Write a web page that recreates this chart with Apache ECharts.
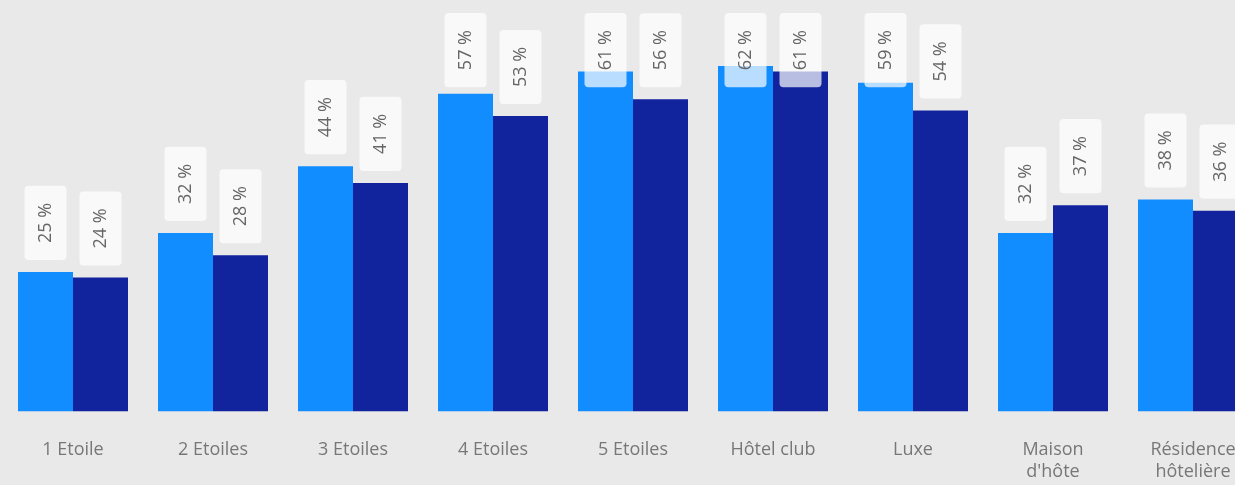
<!DOCTYPE html>
<html>
<head>
<meta charset="utf-8">
<script src="https://cdn.jsdelivr.net/npm/echarts@6/dist/echarts.min.js"></script>
<style>
html,body{margin:0;padding:0;background:#e9e9e9;}
#c{width:1235px;height:485px;}
</style>
</head>
<body>
<div id="c"></div>
<script>
const categories = ['1 Etoile', '2 Etoiles', '3 Etoiles', '4 Etoiles', '5 Etoiles', 'Hôtel club', 'Luxe', "Maison\nd'hôte", 'Résidence\nhôtelière'];
const seriesA = [25, 32, 44, 57, 61, 62, 59, 32, 38];
const seriesB = [24, 28, 41, 53, 56, 61, 54, 37, 36];
const colorA = '#118DFF';
const colorB = '#12239E';

const chart = echarts.init(document.getElementById('c'), null, {renderer: 'canvas'});

const LABEL_DIST = 12;
const LABEL_TOP_LIMIT = 13;

function labelCfg() {
  return {
    show: true,
    position: 'top',
    rotate: 90,
    align: 'left',
    verticalAlign: 'middle',
    distance: LABEL_DIST,
    formatter: '{c} %',
    backgroundColor: 'rgba(255,255,255,0.7)',
    borderRadius: 4,
    padding: [12, 17],
    color: '#666666',
    fontSize: 18,
    fontFamily: 'Open Sans'
  };
}

const option = {
  backgroundColor: '#e9e9e9',
  animation: false,
  grid: {left: 3, top: 21.4, bottom: 73.8, right: -28, outerBoundsMode: 'none', containLabel: false},
  xAxis: {
    type: 'category',
    data: categories,
    axisLine: {show: false},
    axisTick: {show: false},
    axisLabel: {
      interval: 0,
      margin: 28,
      color: '#777777',
      fontSize: 18,
      lineHeight: 22,
      fontFamily: 'Open Sans'
    }
  },
  yAxis: {type: 'value', min: 0, max: 70, show: false, splitLine: {show: false}},
  labelLayout: function (p) {
    const L = Math.max(p.labelRect.width, p.labelRect.height);
    const barTop = Math.min(p.rect.y, p.rect.y + p.rect.height);
    const top = barTop - LABEL_DIST - L;
    if (top < LABEL_TOP_LIMIT) {
      return {y: LABEL_TOP_LIMIT + L};
    }
    return {};
  },
  series: [
    {type: 'bar', data: seriesA, barWidth: 55, barGap: '0%', itemStyle: {color: colorA}, label: labelCfg()},
    {type: 'bar', data: seriesB, barWidth: 55, barGap: '0%', itemStyle: {color: colorB}, label: labelCfg()}
  ]
};
chart.setOption(option);
</script>
</body>
</html>
